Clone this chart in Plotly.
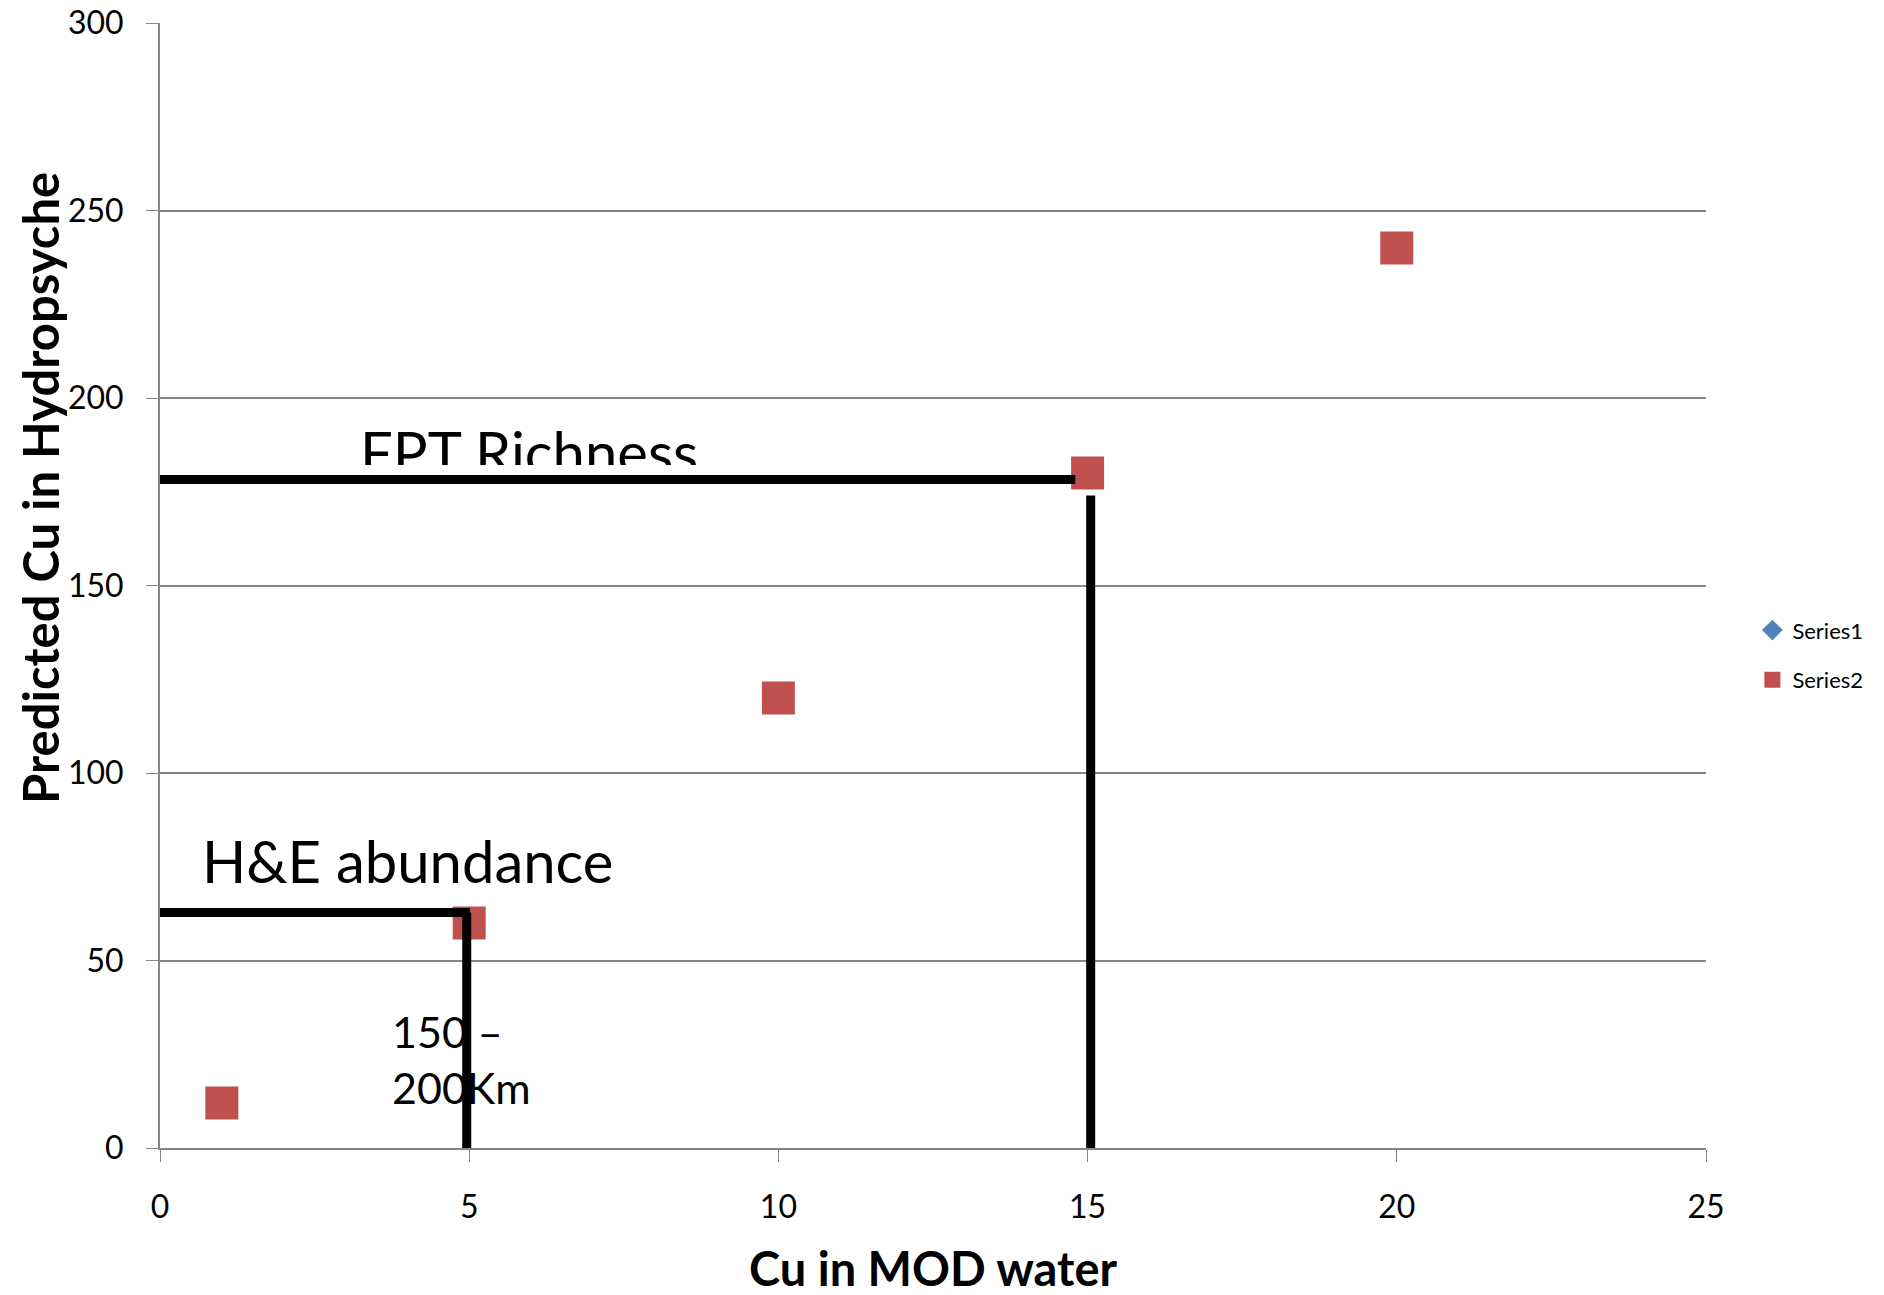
import plotly.graph_objects as go

# Data
x_vals = [1, 5, 10, 15, 20]
series1_y = [12, 60, 120, 180, 240]
series2_y = [12, 60, 120, 180, 240]

x_ticks = [0, 5, 10, 15, 20, 25]
y_ticks = [0, 50, 100, 150, 200, 250, 300]

# Drawn reference lines (data coordinates)
fpt_h_x = [0, 14.8]
fpt_h_y = [178.3, 178.3]
fpt_v_x = [15.05, 15.05]
fpt_v_y = [174, 0]
he_h_x = [0, 5.01]
he_h_y = [62.8, 62.8]
he_v_x = [4.96, 4.96]
he_v_y = [62.8, -1]

FONT = "Lato"
RED = "#C0504D"
BLUE = "#4F81BD"
GRID = "#868686"

fig = go.Figure()

fig.add_trace(go.Scatter(
    x=x_vals, y=series1_y, mode="markers", name="Series1",
    marker=dict(symbol="diamond", color=BLUE, size=18),
    legendgroup="s1", cliponaxis=False,
))
fig.add_trace(go.Scatter(
    x=x_vals, y=series2_y, mode="markers", name="Series2",
    marker=dict(symbol="square", color=RED, size=33),
    legendgroup="s2", cliponaxis=False,
))

shapes = []
for xs, ys in [(fpt_h_x, fpt_h_y), (fpt_v_x, fpt_v_y), (he_h_x, he_h_y), (he_v_x, he_v_y)]:
    shapes.append(dict(type="line", xref="x", yref="y",
                       x0=xs[0], x1=xs[1], y0=ys[0], y1=ys[1],
                       line=dict(color="black", width=9), layer="above"))

annotations = [
    # text box clipped at its bottom, as in the original
    dict(x=3.2, y=195.6, xref="x", yref="y", text="FPT Richness", showarrow=False,
         xanchor="left", yanchor="top", height=48, valign="top",
         font=dict(family=FONT, size=58, color="black")),
    dict(x=0.64, y=76.8, xref="x", yref="y", text="H&E abundance", showarrow=False,
         xanchor="left", yanchor="middle",
         font=dict(family=FONT, size=58, color="black")),
    dict(x=3.72, y=23.7, xref="x", yref="y", text="150 –<br>200Km", showarrow=False,
         xanchor="left", yanchor="middle", align="left",
         font=dict(family=FONT, size=43, color="black")),
    dict(x=0.5, y=-0.1067, xref="paper", yref="paper", text="<b>Cu in MOD water</b>",
         showarrow=False, xanchor="center", yanchor="middle", height=48,
         font=dict(family=FONT, size=47, color="black")),
    dict(x=-0.0776, y=0.5867, xref="paper", yref="paper",
         text="<b>Predicted Cu in Hydropsyche</b>", textangle=-90,
         showarrow=False, xanchor="center", yanchor="middle",
         font=dict(family=FONT, size=49, color="black")),
]

fig.update_layout(
    width=1884, height=1295,
    margin=dict(l=160, r=178, t=23, b=147),
    paper_bgcolor="white", plot_bgcolor="white",
    font=dict(family=FONT, color="black"),
    shapes=shapes, annotations=annotations,
    legend=dict(x=1.03, y=0.438, xanchor="left", yanchor="middle",
                font=dict(family=FONT, size=22, color="black"),
                tracegroupgap=18, traceorder="grouped",
                bgcolor="rgba(0,0,0,0)"),
    showlegend=True,
)

fig.update_xaxes(
    range=[0, 25], tickvals=x_ticks, ticks="outside", ticklen=12, tickcolor=GRID,
    showgrid=False, showline=True, linecolor=GRID, linewidth=2, zeroline=False,
    tickfont=dict(family=FONT, size=32, color="black"), ticklabelstandoff=18,
    automargin=False,
)
fig.update_yaxes(
    range=[0, 300], tickvals=y_ticks, ticks="outside", ticklen=12, tickcolor=GRID,
    showgrid=True, gridcolor=GRID, gridwidth=1.5, showline=True, linecolor=GRID, linewidth=2,
    zeroline=False,
    tickfont=dict(family=FONT, size=32, color="black"), ticklabelstandoff=16,
    automargin=False,
)

fig.write_html("out.html")
